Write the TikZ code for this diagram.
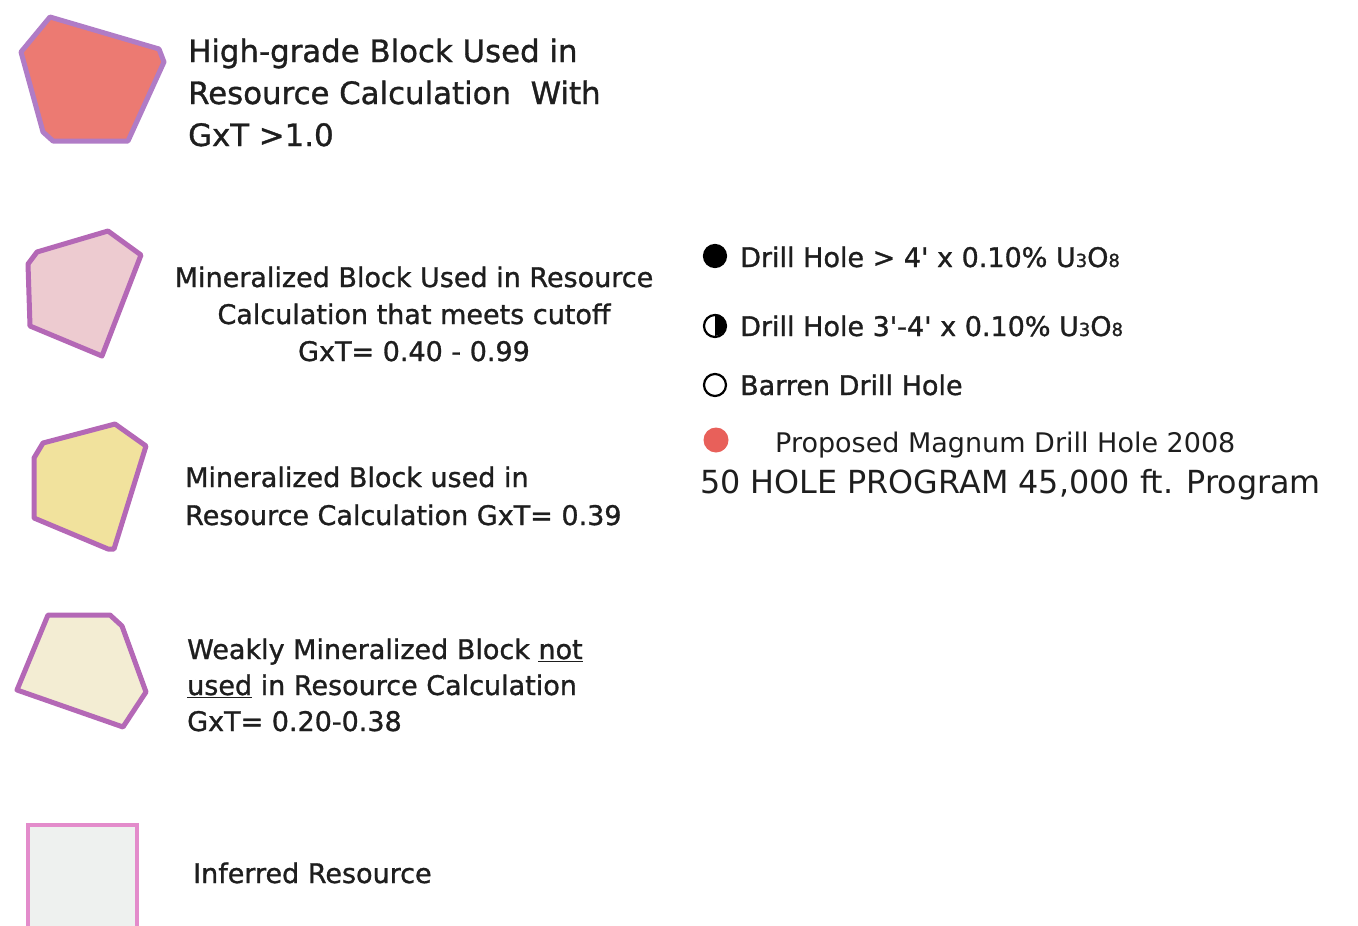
\documentclass[tikz,border=0pt]{standalone}
\usepackage{fontspec}
\setmainfont{DejaVu Sans}
\newfontfamily\medfont{DejaVu Sans}[AutoFakeBold=1.1]
\definecolor{fillA}{HTML}{EC7A72}
\definecolor{fillB}{HTML}{EDCBD0}
\definecolor{fillC}{HTML}{F1E29D}
\definecolor{fillD}{HTML}{F3EDD3}
\definecolor{fillE}{HTML}{EEF1EF}
\definecolor{edgeA}{HTML}{B07CC6}
\definecolor{edgeB}{HTML}{B468B6}
\definecolor{edgeE}{HTML}{E38CCB}
\definecolor{txt}{HTML}{1E1E1E}
\definecolor{reddot}{HTML}{E8605A}
\tikzset{
  blk/.style={line width=5pt, line join=round},
  bigtxt/.style={anchor=base west, inner sep=0pt, text=txt, font=\medfont\bfseries\fontsize{30.8}{37}\selectfont},
  midtxt/.style={anchor=base west, inner sep=0pt, text=txt, font=\medfont\bfseries\fontsize{27}{33}\selectfont},
  ctrtxt/.style={anchor=base, inner sep=0pt, text=txt, font=\medfont\bfseries\fontsize{27}{33}\selectfont},
  regtxt/.style={anchor=base west, inner sep=0pt, text=txt, font=\fontsize{27}{33}\selectfont},
  prgtxt/.style={anchor=base west, inner sep=0pt, text=txt, font=\fontsize{31.8}{38}\selectfont},
  hole/.style={circle, minimum size=22pt, inner sep=0pt, line width=2.2pt, draw=black},
}
\newcommand{\subdig}[1]{{\fontsize{18}{20}\selectfont #1}}
\newcommand{\ft}{\char"0027}
\begin{document}
\begin{tikzpicture}[x=1pt,y=-1pt]
\useasboundingbox (0,0) rectangle (1358,926);
% polygons
\draw[blk, draw=edgeA, fill=fillA] (50,17) -- (159,49) -- (164,62) -- (128,141) -- (53,141) -- (43,132) -- (21,52) -- cycle;
\draw[blk, draw=edgeB, fill=fillB] (108,231) -- (141,255) -- (102,356) -- (30,326) -- (28,264) -- (37,252) -- cycle;
\draw[blk, draw=edgeB, fill=fillC] (115,424) -- (146,446) -- (114,549) -- (108,549) -- (34,518) -- (34,458) -- (43,443) -- cycle;
\draw[blk, draw=edgeB, fill=fillD] (48,615) -- (110,615) -- (122,626) -- (146,692) -- (123,727) -- (17,690) -- cycle;
\draw[line width=4.5pt, draw=edgeE, fill=fillE] (28,825) rectangle (137,935);
% texts left
\node[bigtxt] (t1a) at (188,62) {High-grade Block Used in};
\node[bigtxt] (t1b) at (188,104) {Resource Calculation\ \ With};
\node[bigtxt] (t1c) at (188,146) {GxT >1.0};
\node[ctrtxt] (t2a) at (414,287) {Mineralized Block Used in Resource};
\node[ctrtxt] (t2b) at (414,324) {Calculation that meets cutoff};
\node[ctrtxt] (t2c) at (414,361) {GxT= 0.40 - 0.99};
\node[midtxt] (t3a) at (185,487) {Mineralized Block used in};
\node[midtxt] (t3b) at (185,525) {Resource Calculation GxT= 0.39};
\node[midtxt] (t4a) at (187,659) {Weakly Mineralized Block \underline{not}};
\node[midtxt] (t4b) at (187,695) {\underline{used} in Resource Calculation};
\node[midtxt] (t4c) at (187,731) {GxT= 0.20-0.38};
\node[midtxt] (t5) at (193,883) {Inferred Resource};
% right legend
\node[hole, fill=black] (h1) at (715,256) {};
\node[midtxt] (r1) at (740,267) {Drill Hole > 4\ft{} x 0.10\% U\subdig{3}O\subdig{8}};
\node[hole] (h2) at (715,326) {};
\fill[black] (h2.north) arc[start angle=90, end angle=-90, radius=11pt] -- cycle;
\node[midtxt] (r2) at (740,336) {Drill Hole 3\ft-4\ft{} x 0.10\% U\subdig{3}O\subdig{8}};
\node[hole] (h3) at (715,385) {};
\node[midtxt] (r3) at (740,395) {Barren Drill Hole};
\node[circle, minimum size=25pt, inner sep=0pt, fill=reddot] (h4) at (716,440) {};
\node[regtxt] (r4) at (775,452) {Proposed Magnum Drill Hole 2008};
\node[prgtxt] (r5) at (700,493) {50 HOLE PROGRAM 45,000 ft. Program};
\end{tikzpicture}
\end{document}
